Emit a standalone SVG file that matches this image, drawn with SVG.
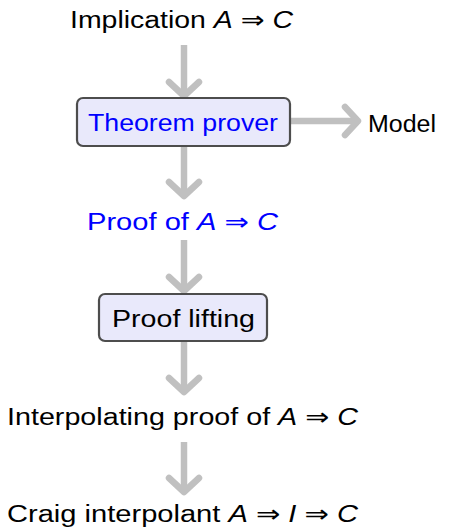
<svg xmlns="http://www.w3.org/2000/svg" width="449" height="528" viewBox="0 0 449 528">
<defs>
<style>
.t{font-family:"Liberation Sans","DejaVu Sans",sans-serif;font-size:23.5px;fill:#000}
.b{fill:#0000ff}
.i{font-style:italic}
.box{fill:#e9e9fb;stroke:#4d4d4d;stroke-width:2.2}
.sh{stroke:#c0c0c0;stroke-width:6.5;fill:none}
.hd{stroke:#c0c0c0;stroke-width:6.5;fill:none;stroke-linecap:round;stroke-linejoin:round}
</style>
</defs>
<g id="connectors">
<line class="sh" x1="184" y1="45" x2="184" y2="94"/>
<polyline class="hd" points="169,82 184,96 199,82"/>
<line class="sh" x1="184" y1="146" x2="184" y2="194"/>
<polyline class="hd" points="169,182 184,196 199,182"/>
<line class="sh" x1="184" y1="240" x2="184" y2="289"/>
<polyline class="hd" points="169,277 184,291 199,277"/>
<line class="sh" x1="184" y1="341" x2="184" y2="390"/>
<polyline class="hd" points="169,378 184,392 199,378"/>
<line class="sh" x1="184" y1="442" x2="184" y2="490"/>
<polyline class="hd" points="169,478 184,492 199,478"/>
<line class="sh" x1="291" y1="121" x2="356" y2="121"/>
<polyline class="hd" points="345,107 358,121 345,135"/>
</g>
<g id="implication">
<text class="t" x="70" y="28" textLength="223" lengthAdjust="spacingAndGlyphs">Implication <tspan class="i">A</tspan> ⇒ <tspan class="i">C</tspan></text>
</g>
<g id="theorem-prover">
<rect class="box" x="77" y="98" width="213" height="48" rx="6"/>
<text class="t b" x="88" y="130.5" textLength="190" lengthAdjust="spacingAndGlyphs">Theorem prover</text>
</g>
<g id="model">
<text class="t" x="368" y="131.5" textLength="68" lengthAdjust="spacingAndGlyphs">Model</text>
</g>
<g id="proof">
<text class="t b" x="87" y="229.5" textLength="191" lengthAdjust="spacingAndGlyphs">Proof of <tspan class="i">A</tspan> ⇒ <tspan class="i">C</tspan></text>
</g>
<g id="proof-lifting">
<rect class="box" x="99" y="294" width="168" height="47" rx="6"/>
<text class="t" x="112" y="327" textLength="143" lengthAdjust="spacingAndGlyphs">Proof lifting</text>
</g>
<g id="interpolating-proof">
<text class="t" x="7" y="425" textLength="351" lengthAdjust="spacingAndGlyphs">Interpolating proof of <tspan class="i">A</tspan> ⇒ <tspan class="i">C</tspan></text>
</g>
<g id="craig-interpolant">
<text class="t" x="7" y="522" textLength="351" lengthAdjust="spacingAndGlyphs">Craig interpolant <tspan class="i">A</tspan> ⇒ <tspan class="i">I</tspan> ⇒ <tspan class="i">C</tspan></text>
</g>
</svg>
